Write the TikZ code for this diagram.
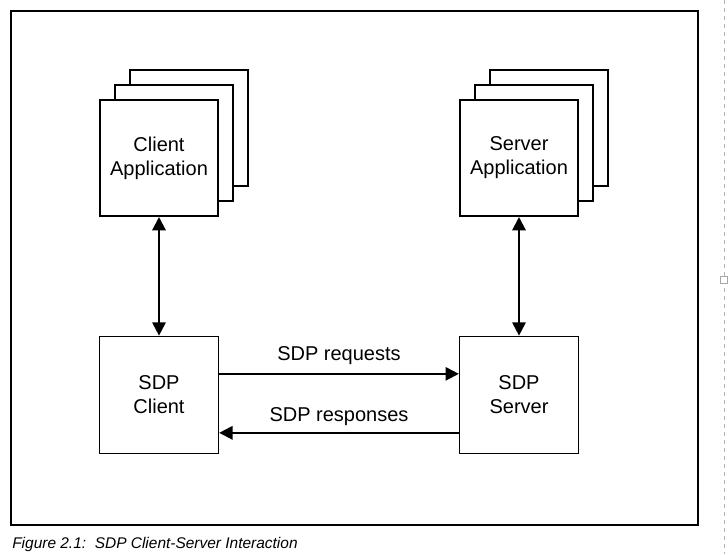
\documentclass[tikz,border=0pt]{standalone}
\usepackage{fontspec}
\setmainfont{Liberation Sans}
\usetikzlibrary{arrows.meta,positioning}

\begin{document}
\begin{tikzpicture}[x=0.75pt, y=-0.75pt,
    app/.style={rectangle, minimum width=88.5pt, minimum height=87pt, align=center, draw=black, line width=1.5pt, fill=white, font=\fontsize{15}{18}\selectfont},
    sdp/.style={rectangle, minimum width=89.5pt, minimum height=88pt, align=center, draw=black, line width=0.75pt, font=\fontsize{15}{18}\selectfont},
    arrow/.style={line width=1.5pt, {Triangle[length=10pt,width=10pt]}-{Triangle[length=10pt,width=10pt]}},
    msg/.style={line width=1.5pt, -{Triangle[length=10pt,width=10pt]}},
    lbl/.style={font=\fontsize{15}{18}\selectfont}]

    \useasboundingbox (0,0) rectangle (728,554);
    \draw [line width=1pt] (11,11) rectangle (698,525);
    \draw [gray!60, dashed, line width=0.5pt] (724,0) -- (724,554);
    \draw [gray!70, line width=0.5pt, fill=white] (720,276) rectangle (727,283);

    % client side
    \node (capp3) [app] at (189,128) {};
    \node (capp2) [app] at (174,143) {};
    \node (capp) [app] at (159,158) {Client\\Application};
    \node (sdpc) [sdp, below=89pt of capp] {SDP\\Client};

    % server side
    \node (sapp3) [app] at (549,128) {};
    \node (sapp2) [app] at (534,143) {};
    \node (sapp) [app] at (519,158) {Server\\Application};
    \node (sdps) [sdp, below=89pt of sapp] {SDP\\Server};

    \draw [arrow] (capp) -- (sdpc);
    \draw [arrow] (sapp) -- (sdps);
    \draw [msg] ([yshift=15.75pt]sdpc.east) -- node[lbl, above=2.5pt] {SDP requests} ([yshift=15.75pt]sdps.west);
    \draw [msg] ([yshift=-28.5pt]sdps.west) -- node[lbl, above=1.5pt] {SDP responses} ([yshift=-28.5pt]sdpc.east);

    \node (caption) [anchor=base west, inner sep=0pt, font=\fontsize{11.6}{13}\selectfont\itshape] at (12,548) {Figure 2.1:\ \ SDP Client-Server Interaction};

  \end{tikzpicture}
\end{document}
